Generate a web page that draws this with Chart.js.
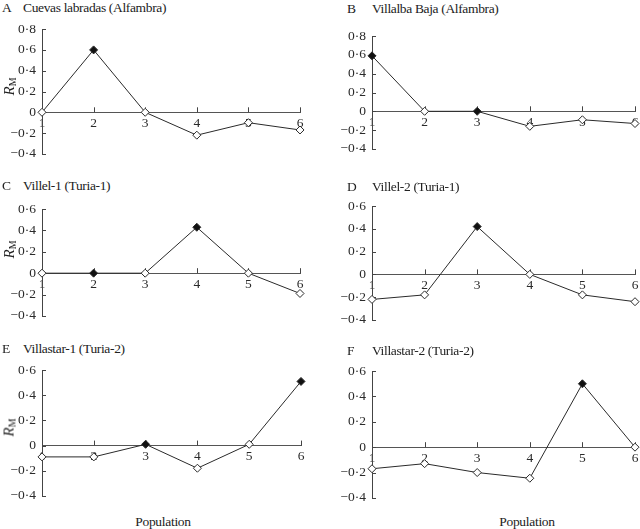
<!DOCTYPE html>
<html>
<head>
<meta charset="utf-8">
<script src="https://cdn.jsdelivr.net/npm/chart.js@4"></script>
<style>
  html, body { margin:0; padding:0; background:#fff; }
  #page { position:relative; width:640px; height:529px; overflow:hidden; font-family:"Liberation Serif", "Times New Roman", Times, serif; color:#222; }
  canvas { position:absolute; }
  .title { position:absolute; font-size:13.5px; letter-spacing:-0.35px; white-space:nowrap; line-height:13px; }
  .title .letter { position:absolute; left:0; }
  .ylab { position:absolute; font-size:15px; transform:rotate(-90deg); transform-origin:center; white-space:nowrap; }
  .ylab sub { font-size:10px; font-style:normal; vertical-align:-2px; }
  .xlab { position:absolute; font-size:13.5px; letter-spacing:-0.3px; white-space:nowrap; transform:translateX(-50%); }
</style>
</head>
<body>
<div id="page"></div>
<script>
const populations = [1, 2, 3, 4, 5, 6];

const rmCuevas     = [0, 0.6, 0, -0.22, -0.10, -0.17];
const rmVillalba   = [0.59, 0, 0, -0.16, -0.09, -0.13];
const rmVillel1    = [0, 0, 0, 0.43, 0, -0.19];
const rmVillel2    = [-0.22, -0.18, 0.42, 0, -0.18, -0.24];
const rmVillastar1 = [-0.09, -0.09, 0.01, -0.18, 0.01, 0.51];
const rmVillastar2 = [-0.17, -0.13, -0.2, -0.245, 0.5, 0];

// filled diamonds
const sigCuevas     = [0, 1, 0, 0, 0, 0];
const sigVillalba   = [1, 0, 1, 0, 0, 0];
const sigVillel1    = [0, 1, 0, 1, 0, 0];
const sigVillel2    = [0, 0, 1, 0, 0, 0];
const sigVillastar1 = [0, 0, 1, 0, 0, 1];
const sigVillastar2 = [0, 0, 0, 0, 1, 0];

const yMinAll = -0.4;
const yMaxTall = 0.8;
const yMaxShort = 0.6;

const panels = [
    { letter:'A', name:'Cuevas labradas (Alfambra)', values:rmCuevas, sig:sigCuevas, yMax:yMaxTall,
      box:{ axis:42, right:300, top:23, bottom:160 }, titleY:1, rm:87 },
    { letter:'B', name:'Villalba Baja (Alfambra)', values:rmVillalba, sig:sigVillalba, yMax:yMaxTall,
      box:{ axis:372, right:635, top:30, bottom:155 }, titleY:2 },
    { letter:'C', name:'Villel-1 (Turia-1)', values:rmVillel1, sig:sigVillel1, yMax:yMaxShort,
      box:{ axis:42, right:300, top:203, bottom:322 }, titleY:179, rm:250 },
    { letter:'D', name:'Villel-2 (Turia-1)', values:rmVillel2, sig:sigVillel2, yMax:yMaxShort,
      box:{ axis:372, right:635, top:200, bottom:326 }, titleY:180 },
    { letter:'E', name:'Villastar-1 (Turia-2)', values:rmVillastar1, sig:sigVillastar1, yMax:yMaxShort,
      box:{ axis:42, right:301, top:364, bottom:502 }, titleY:342, rm:428, pop:true },
    { letter:'F', name:'Villastar-2 (Turia-2)', values:rmVillastar2, sig:sigVillastar2, yMax:yMaxShort,
      box:{ axis:372, right:635, top:365, bottom:504 }, titleY:344, pop:true }
];

const page = document.getElementById('page');
const AXIS_W = 40, PAD = 8, PAD_R = 10;
const ink = '#2a2a2a';
const tickFont = { family:'"Liberation Serif", "Times New Roman", Times, serif', size:13.5 };

function fmt(v) {
    if (Math.abs(v) < 1e-9) return '0';
    const s = Math.abs(v).toFixed(1).replace('.', '\u00b7');
    return v < 0 ? '\u2212' + s : s;
}

// small inward tick marks on both axes
const inwardTicks = {
    id:'inwardTicks',
    beforeDatasetsDraw(chart) {
        const { ctx, chartArea, scales:{ x, y } } = chart;
        const zeroY = y.getPixelForValue(0);
        ctx.save();
        ctx.strokeStyle = '#444';
        ctx.lineWidth = 1;
        ctx.beginPath();
        y.ticks.forEach(t => {
            const py = Math.round(y.getPixelForValue(t.value)) + 0.5;
            ctx.moveTo(chartArea.left, py);
            ctx.lineTo(chartArea.left + 4, py);
        });
        x.ticks.forEach(t => {
            if (t.value === populations[0]) return;
            const px = Math.round(x.getPixelForValue(t.value)) + 0.5;
            ctx.moveTo(px, zeroY);
            ctx.lineTo(px, zeroY - 5);
        });
        ctx.stroke();
        ctx.restore();
    }
};

panels.forEach((p, i) => {
    const b = p.box;
    const left = b.axis - AXIS_W;
    const top = b.top - PAD;
    const wrap = document.createElement('div');
    wrap.style.position = 'absolute';
    wrap.style.left = left + 'px';
    wrap.style.top = top + 'px';
    wrap.style.width = (b.right + PAD_R - left) + 'px';
    wrap.style.height = (b.bottom + PAD - top) + 'px';
    const canvas = document.createElement('canvas');
    canvas.style.left = '0px';
    canvas.style.top = '0px';
    wrap.appendChild(canvas);
    page.appendChild(wrap);

    const title = document.createElement('div');
    title.className = 'title';
    title.style.left = (b.axis < 100 ? 2 : 347) + 'px';
    title.style.top = p.titleY + 'px';
    title.innerHTML = `<span class="letter">${p.letter}</span><span style="margin-left:${b.axis < 100 ? 21 : 25}px">${p.name}</span>`;
    page.appendChild(title);

    if (p.rm) {
        const rm = document.createElement('div');
        rm.className = 'ylab';
        rm.innerHTML = '<i>R</i><sub>M</sub>';
        rm.style.left = '0px';
        rm.style.top = (p.rm - 9) + 'px';
        page.appendChild(rm);
    }
    if (p.pop) {
        const pop = document.createElement('div');
        pop.className = 'xlab';
        pop.textContent = 'Population';
        pop.style.left = (b.axis < 100 ? 163 : 527) + 'px';
        pop.style.top = '514px';
        page.appendChild(pop);
    }

    new Chart(canvas, {
        type:'line',
        data:{
            datasets:[{
                data:populations.map((pop, k) => ({ x:pop, y:p.values[k] })),
                borderColor:ink,
                borderWidth:1,
                tension:0,
                clip:false,
                pointStyle:'rectRot',
                pointRadius:4,
                pointHoverRadius:4,
                pointBorderWidth:1,
                pointBorderColor:ink,
                pointBackgroundColor:p.sig.map(s => s ? '#111' : '#fff')
            }]
        },
        options:{
            responsive:true,
            maintainAspectRatio:false,
            animation:false,
            events:[],
            layout:{ padding:{ top:PAD, bottom:PAD, right:PAD_R, left:0 } },
            plugins:{ legend:{ display:false }, tooltip:{ enabled:false } },
            scales:{
                x:{
                    type:'linear',
                    position:{ y:0 },
                    min:populations[0],
                    max:populations[populations.length - 1],
                    grid:{ display:false, drawTicks:false },
                    border:{ display:true, color:'#555', width:1 },
                    ticks:{ stepSize:1, padding:3, color:ink, font:tickFont, maxRotation:0 }
                },
                y:{
                    min:yMinAll,
                    max:p.yMax,
                    afterFit(scale) { scale.width = AXIS_W; },
                    grid:{ display:false, drawTicks:false },
                    border:{ display:true, color:'#444', width:1 },
                    ticks:{ stepSize:0.2, padding:6, color:ink, font:tickFont, callback:v => fmt(v) }
                }
            }
        },
        plugins:[inwardTicks]
    });
});
</script>
</body>
</html>
